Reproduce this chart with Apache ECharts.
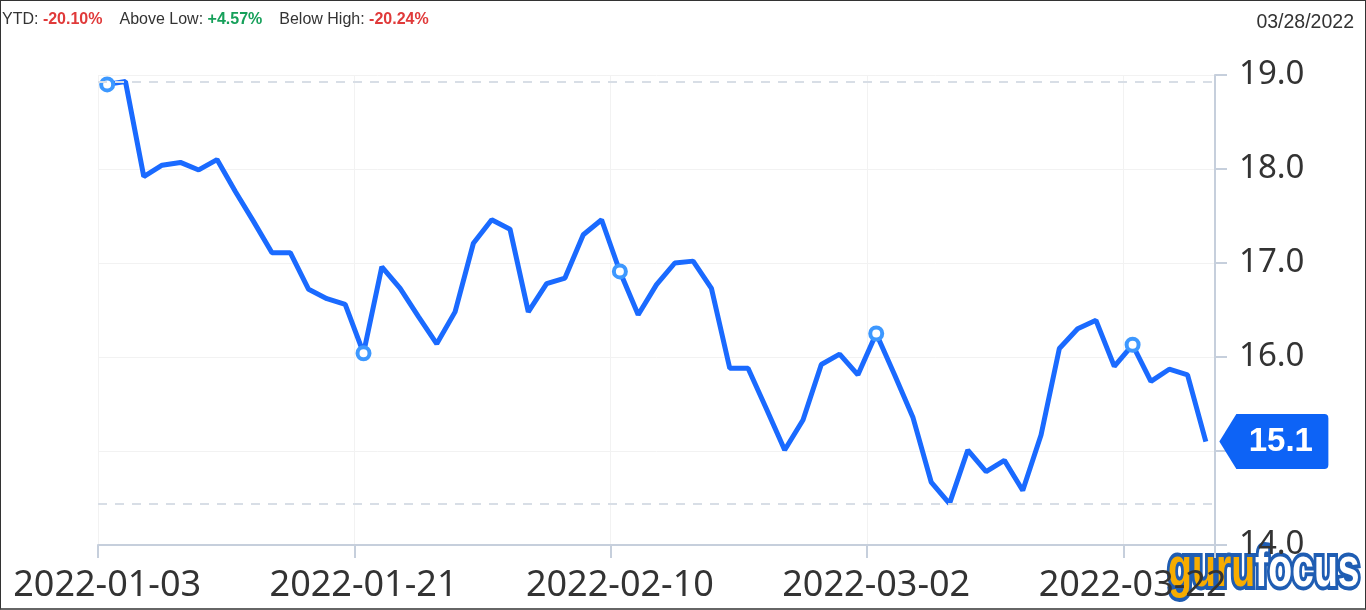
<!DOCTYPE html>
<html>
<head>
<meta charset="utf-8">
<script src="https://cdn.jsdelivr.net/npm/echarts@6/dist/echarts.min.js"></script>
<style>
  html, body { margin: 0; padding: 0; background: #fff; }
  #wrap { position: relative; width: 1366px; height: 610px; box-sizing: border-box;
          border: 1px solid #333; border-bottom: 2px solid #666; overflow: hidden; }
  #chart { position: absolute; left: 0; top: 0; width: 1366px; height: 610px; }
  #stats { position: absolute; left: 1px; top: 9px; font-family: 'Liberation Sans', Arial, sans-serif;
           font-size: 16px; color: #333; white-space: nowrap; z-index: 5; }
  #stats .grp { margin-right: 17px; }
  #stats b { font-weight: bold; }
  .neg { color: #e03a3a; }
  .pos { color: #16a05a; }
  #date { position: absolute; right: 11px; top: 9px; font-family: 'Liberation Sans', Arial, sans-serif;
          font-size: 19.5px; color: #333; z-index: 5; }
</style>
</head>
<body>
<div id="wrap">
  <div id="chart"></div>
  <div id="stats"></div>
  <div id="date"></div>
</div>
<script>
// ---- data ----
const dates = [
  '2022-01-03','2022-01-04','2022-01-05','2022-01-06','2022-01-07',
  '2022-01-10','2022-01-11','2022-01-12','2022-01-13','2022-01-14',
  '2022-01-17','2022-01-18','2022-01-19','2022-01-20','2022-01-21',
  '2022-01-24','2022-01-25','2022-01-26','2022-01-27','2022-01-28',
  '2022-01-31','2022-02-01','2022-02-02','2022-02-03','2022-02-04',
  '2022-02-07','2022-02-08','2022-02-09','2022-02-10','2022-02-11',
  '2022-02-14','2022-02-15','2022-02-16','2022-02-17','2022-02-18',
  '2022-02-21','2022-02-22','2022-02-23','2022-02-24','2022-02-25',
  '2022-02-28','2022-03-01','2022-03-02','2022-03-03','2022-03-04',
  '2022-03-07','2022-03-08','2022-03-09','2022-03-10','2022-03-11',
  '2022-03-14','2022-03-15','2022-03-16','2022-03-17','2022-03-18',
  '2022-03-21','2022-03-22','2022-03-23','2022-03-24','2022-03-25',
  '2022-03-28'
];
const prices = [
  18.90, 18.93, 17.92, 18.04, 18.07, 17.99, 18.10, 17.76, 17.44, 17.11,
  17.11, 16.72, 16.62, 16.56, 16.04, 16.96, 16.73, 16.43, 16.14, 16.48,
  17.21, 17.46, 17.36, 16.48, 16.78, 16.84, 17.30, 17.46, 16.91, 16.45,
  16.77, 17.00, 17.02, 16.73, 15.88, 15.88, 15.45, 15.01, 15.33, 15.92,
  16.03, 15.81, 16.25, 15.81, 15.36, 14.67, 14.44, 15.01, 14.78, 14.90,
  14.58, 15.17, 16.09, 16.30, 16.39, 15.90, 16.13, 15.74, 15.87, 15.81,
  15.10
];
const yTicks = [14, 15, 16, 17, 18, 19];
const statLabels = ['YTD:', 'Above Low:', 'Below High:'];
const statValues = ['-20.10%', '+4.57%', '-20.24%'];
const asOfDate = '03/28/2022';
const logoParts = ['guru', 'focus'];

// ---- header ----
document.getElementById('stats').innerHTML = statLabels.map((l, i) => {
  const cls = statValues[i].charAt(0) === '-' ? 'neg' : 'pos';
  return '<span class="grp">' + l + ' <b class="' + cls + '">' + statValues[i] + '</b></span>';
}).join('');
document.getElementById('date').textContent = asOfDate;

// ---- chart ----
const LABEL_STEP = 14;
const lastIdx = prices.length - 1;
const logoFont = 'bold 56px "Liberation Sans", Arial, sans-serif';
const guruW = echarts.format.getTextRect
  ? echarts.format.getTextRect(logoParts[0], logoFont).width
  : 124;

const chart = echarts.init(document.getElementById('chart'), null, { renderer: 'canvas' });
chart.setOption({
  animation: false,
  grid: { left: 97, right: 152, top: 74, bottom: 66, containLabel: false },
  graphic: [{
    type: 'group',
    x: 1167, y: 598,
    scaleX: 0.7, scaleY: 1,
    z: 100,
    children: [
      { type: 'text', x: 0, y: 0,
        style: { text: logoParts[0], font: logoFont, fill: '#f7ac00', stroke: '#1f5db3',
                 lineWidth: 8, strokeFirst: true, verticalAlign: 'bottom', align: 'left' } },
      { type: 'text', x: guruW, y: 0,
        style: { text: logoParts[1], font: logoFont, fill: '#ffffff', stroke: '#1f5db3',
                 lineWidth: 8, strokeFirst: true, verticalAlign: 'bottom', align: 'left' } }
    ]
  }],
  xAxis: {
    type: 'category',
    data: dates,
    boundaryGap: true,
    axisLine: { show: true, lineStyle: { color: '#c6cfdc', width: 2 } },
    axisTick: { show: true, interval: LABEL_STEP - 1, length: 13, lineStyle: { color: '#c6cfdc', width: 2 } },
    axisLabel: { interval: LABEL_STEP - 1, margin: 23, color: '#333',
                 fontFamily: 'Noto Sans', fontSize: 36 },
    splitLine: { show: true, interval: LABEL_STEP - 1, lineStyle: { color: '#f2f2f2', width: 1 } }
  },
  yAxis: {
    type: 'value',
    position: 'right',
    min: yTicks[0],
    max: yTicks[yTicks.length - 1],
    interval: 1,
    axisLine: { show: true, lineStyle: { color: '#c6cfdc', width: 2 } },
    axisTick: { show: true, length: 12, lineStyle: { color: '#c6cfdc', width: 2 } },
    axisLabel: { margin: 24, color: '#333', fontFamily: 'Noto Sans', fontSize: 33,
                 formatter: v => v.toFixed(1) },
    splitLine: { show: true, lineStyle: { color: '#f2f2f2', width: 1 } }
  },
  series: [{
    type: 'line',
    data: prices,
    symbol: (val, p) => (p.dataIndex % LABEL_STEP === 0 ? 'circle' : 'none'),
    symbolSize: 12,
    showAllSymbol: true,
    lineStyle: { color: '#1a6aff', width: 5 },
    itemStyle: { color: '#ffffff', borderColor: '#3d98ff', borderWidth: 4 },
    z: 3,
    markLine: {
      silent: true,
      symbol: ['none', 'none'],
      label: { show: false },
      lineStyle: { color: '#d8dee6', type: [9, 8], width: 2 },
      data: [{ type: 'max' }, { type: 'min' }]
    },
    markPoint: {
      silent: true,
      data: [{ coord: [lastIdx, prices[lastIdx]], value: prices[lastIdx] }],
      symbol: 'path://M0,27.5 L17,0 L105,0 Q109,0 109,4 L109,51 Q109,55 105,55 L17,55 Z',
      symbolSize: [109, 55],
      symbolOffset: [68, 0],
      itemStyle: { color: '#0d63f6', borderWidth: 0 },
      label: { show: true, position: 'inside', offset: [7, 0], color: '#fff',
               fontFamily: 'Liberation Sans', fontWeight: 'bold', fontSize: 33,
               formatter: p => Number(p.value).toFixed(1) },
      z: 10
    }
  }]
});
</script>
</body>
</html>
